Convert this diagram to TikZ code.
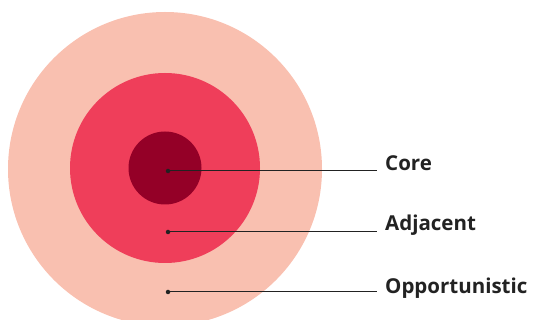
\documentclass[tikz,border=0pt]{standalone}
\usepackage{fontspec}
\setmainfont{Open Sans}
\definecolor{outerc}{HTML}{F9C0B0}
\definecolor{midc}{HTML}{EF3E5A}
\definecolor{innerc}{HTML}{940027}
\definecolor{inkc}{HTML}{222222}
\begin{document}
\begin{tikzpicture}[x=1pt,y=-1pt,
  ring/.style={circle,inner sep=0pt,minimum size=#1},
  pin/.style={circle,fill=inkc,inner sep=0pt,minimum size=4.5pt},
  lab/.style={anchor=west,inner sep=0pt,text=inkc,font=\fontsize{20.5}{22}\selectfont\bfseries},
  lead/.style={draw=inkc,line width=1pt}]
\useasboundingbox (0,0) rectangle (533,320);
\begin{scope}
\clip (0,0) rectangle (533,320);
\node[ring=314pt,fill=outerc] (outer) at (165,169) {};
\node[ring=190pt,fill=midc] (mid) at (165,168) {};
\node[ring=73pt,fill=innerc] (inner) at (165,168) {};
\end{scope}
\node[pin] (p1) at (168,171) {};
\node[pin] (p2) at (168,232) {};
\node[pin] (p3) at (168,292) {};
\node[lab] (l1) at (385,163) {Core};
\node[lab] (l2) at (385,225) {Adjacent};
\node[lab] (l3) at (385,288) {Opportunistic};
\coordinate (e1) at (377,171);
\coordinate (e2) at (377,232);
\coordinate (e3) at (377,292);
\draw[lead] (p1.center) -- (e1);
\draw[lead] (p2.center) -- (e2);
\draw[lead] (p3.center) -- (e3);
\end{tikzpicture}
\end{document}
